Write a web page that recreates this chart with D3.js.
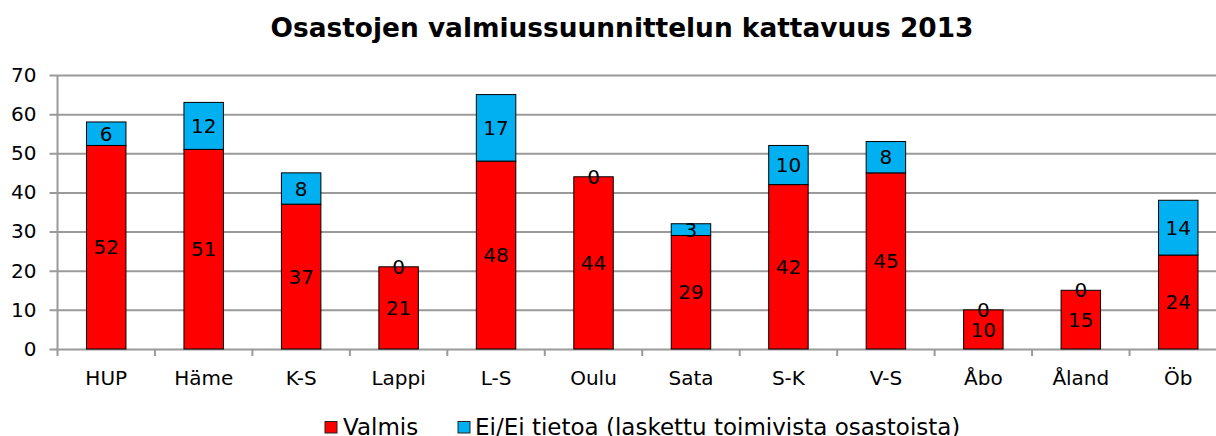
<!DOCTYPE html>
<html>
<head>
<meta charset="utf-8">
<script src="https://cdn.jsdelivr.net/npm/d3@7"></script>
<style>
  body { margin: 0; background: #fff; }
  svg { display: block; font-family: "DejaVu Sans", Verdana, sans-serif; }
</style>
</head>
<body>
<script>
// data
const categories = ['HUP', 'Häme', 'K-S', 'Lappi', 'L-S', 'Oulu', 'Sata', 'S-K', 'V-S', 'Åbo', 'Åland', 'Öb']
const valmis = [52, 51, 37, 21, 48, 44, 29, 42, 45, 10, 15, 24]
const eiTietoa = [6, 12, 8, 0, 17, 0, 3, 10, 8, 0, 0, 14]
const seriesNames = ['Valmis', 'Ei/Ei tietoa (laskettu toimivista osastoista)']
const seriesColors = ['#FF0000', '#00B0F0']
const yTicks = [0, 10, 20, 30, 40, 50, 60, 70]

const fullWidth = 1216
const fullHeight = 436
const margin = { top: 75, right: -11, bottom: 87, left: 57.5 }

const rows = categories.map((c, i) => ({ cat: c, s0: valmis[i], s1: eiTietoa[i] }))
const stack = d3.stack().keys(['s0', 's1'])
const layers = stack(rows)

const svg = d3.select('body').append('svg')
  .attr('width', fullWidth)
  .attr('height', fullHeight)

const x = d3.scaleBand()
  .domain(categories)
  .range([margin.left, fullWidth - margin.right])

const y = d3.scaleLinear()
  .domain([0, 70])
  .range([fullHeight - margin.bottom, margin.top])

// title
svg.append('text')
  .attr('x', 622)
  .attr('y', 37)
  .attr('text-anchor', 'middle')
  .attr('font-size', 26.4)
  .attr('font-weight', 'bold')
  .text('Osastojen valmiussuunnittelun kattavuus 2013')

// gridlines + y axis
const yAxis = d3.axisLeft(y)
  .tickValues(yTicks)
  .tickSize(-(fullWidth - margin.left) - 8)
  .tickPadding(0)

const gy = svg.append('g')
  .attr('transform', `translate(${margin.left},0)`)
  .call(yAxis)
gy.select('.domain').remove()
gy.selectAll('.tick line')
  .attr('x1', -8)
  .attr('x2', fullWidth)
  .attr('stroke', '#9a9a9a')
  .attr('stroke-width', 2)
gy.selectAll('.tick text')
  .attr('x', -21)
  .attr('font-size', 20)
  .attr('fill', '#000')
  .attr('font-family', '"DejaVu Sans", Verdana, sans-serif')

// vertical axis line
svg.append('line')
  .attr('x1', margin.left).attr('x2', margin.left)
  .attr('y1', y(70)).attr('y2', y(0) + 7)
  .attr('stroke', '#9a9a9a')
  .attr('stroke-width', 2)

// x axis ticks between categories
const boundaries = categories.map(c => x(c)).slice(1)
svg.append('g').selectAll('line')
  .data(boundaries)
  .join('line')
  .attr('x1', d => d).attr('x2', d => d)
  .attr('y1', y(0)).attr('y2', y(0) + 7)
  .attr('stroke', '#9a9a9a')
  .attr('stroke-width', 2)

svg.append('g').selectAll('text')
  .data(categories)
  .join('text')
  .attr('x', d => x(d) + x.bandwidth() / 2)
  .attr('y', 385)
  .attr('text-anchor', 'middle')
  .attr('font-size', 20)
  .text(d => d)

// bars
const barW = x.bandwidth() * 0.405
const layerG = svg.selectAll('.layer')
  .data(layers)
  .join('g')
  .attr('class', 'layer')
  .attr('fill', (d, i) => seriesColors[i])

layerG.selectAll('rect')
  .data(d => d.filter(s => s[1] > s[0]))
  .join('rect')
  .attr('x', d => x(d.data.cat) + x.bandwidth() / 2 - barW / 2)
  .attr('width', barW)
  .attr('y', d => y(d[1]))
  .attr('height', d => y(d[0]) - y(d[1]))
  .attr('stroke', '#000')
  .attr('stroke-width', 1)

// value labels
layerG.selectAll('text')
  .data(d => d)
  .join('text')
  .attr('x', d => x(d.data.cat) + x.bandwidth() / 2)
  .attr('y', d => (y(d[0]) + y(d[1])) / 2)
  .attr('dy', '0.36em')
  .attr('text-anchor', 'middle')
  .attr('font-size', 20)
  .attr('fill', '#000')
  .text(d => d[1] - d[0])

// legend
const legendX = [325, 458]
const leg = svg.append('g').selectAll('g')
  .data(seriesNames)
  .join('g')
  .attr('transform', (d, i) => `translate(${legendX[i]},421.5)`)
leg.append('rect')
  .attr('width', 12).attr('height', 11.5)
  .attr('fill', (d, i) => seriesColors[i])
  .attr('stroke', '#222')
  .attr('stroke-width', 1)
leg.append('text')
  .attr('x', d => d === 'Valmis' ? 18 : 17)
  .attr('y', 13.5)
  .attr('font-size', 23)
  .text(d => d)
</script>
</body>
</html>
